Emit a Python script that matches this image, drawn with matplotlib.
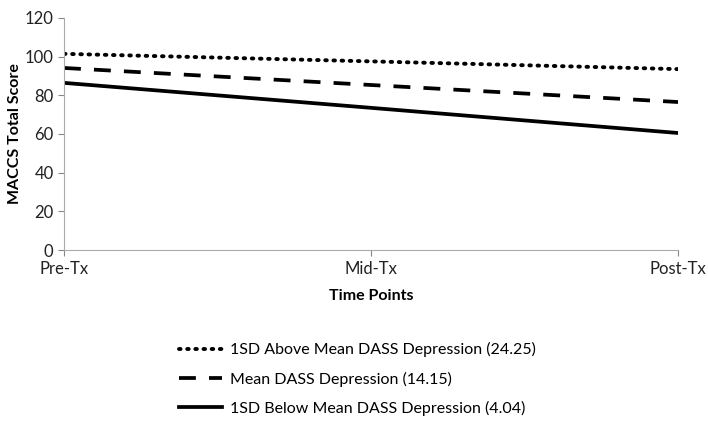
import matplotlib.pyplot as plt

plt.rcParams['font.family'] = ['Lato', 'DejaVu Sans']

time_points = ['Pre-Tx', 'Mid-Tx', 'Post-Tx']
above_sd = [101.4, 97.5, 93.5]
mean_dass = [94.1, 85.3, 76.5]
below_sd = [86.4, 73.5, 60.5]

labels = ['1SD Above Mean DASS Depression (24.25)',
          'Mean DASS Depression (14.15)',
          '1SD Below Mean DASS Depression (4.04)']

fig = plt.figure(figsize=(7.08, 4.24), dpi=100)
ax = fig.add_axes([0.0904, 0.41, 0.8676, 0.548])

x = range(len(time_points))
ax.plot(x, above_sd, color='black', lw=2.8, linestyle=(0, (0.4, 1.7)),
        dash_capstyle='round', label=labels[0])
ax.plot(x, mean_dass, color='black', lw=2.7, linestyle=(0, (4.5, 3.5)), label=labels[1])
ax.plot(x, below_sd, color='black', lw=2.7, label=labels[2])

ax.set_xlim(0, 2)
ax.set_ylim(0, 120)
ax.set_yticks(range(0, 121, 20))
ax.set_xticks(list(x))
ax.set_xticklabels(time_points)
ax.tick_params(axis='both', labelsize=12, colors='#888888', labelcolor='#222222',
               direction='out', length=4)
for side in ['top', 'right']:
    ax.spines[side].set_visible(False)
for side in ['left', 'bottom']:
    ax.spines[side].set_color('#aaaaaa')

ax.set_xlabel('Time Points', fontsize=11.5, fontweight='bold', labelpad=9)
ax.set_ylabel('MACCS Total Score', fontsize=11.5, fontweight='bold', labelpad=2)

fig.legend(loc='lower left', bbox_to_anchor=(0.233, -0.015), frameon=False,
           fontsize=11.5, handlelength=2.7, labelspacing=0.9, handletextpad=0.5)

fig.savefig('out.png', dpi=100)
